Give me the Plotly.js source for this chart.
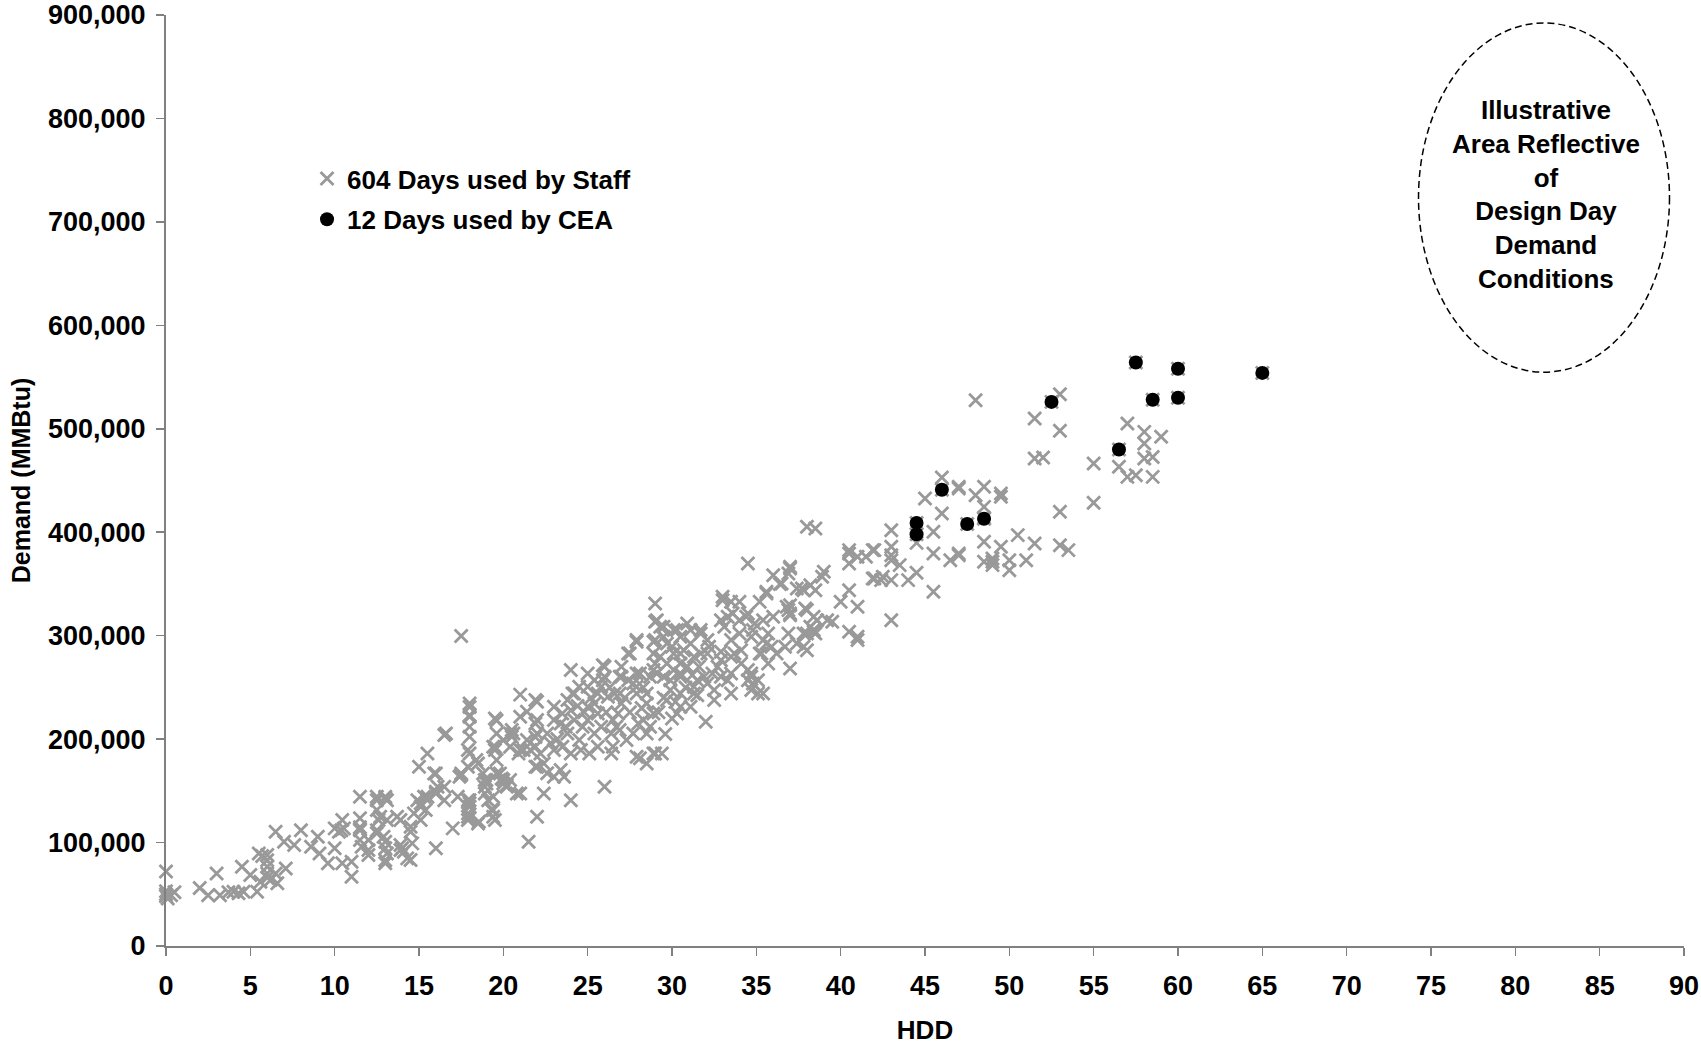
<!DOCTYPE html>
<html><head><meta charset="utf-8">
<script src="https://cdn.plot.ly/plotly-3.0.1.min.js"></script>
<style>html,body{margin:0;padding:0;background:#fff;} #chart{width:1701px;height:1045px;}</style>
</head><body><div id="chart"></div>
<script>
// ---- Staff days (HDD, Demand MMBtu), by HDD region ----
const staffHDD_A = [0,0,0,0.1,0.5,0.3,0,2,2.5,3, 3.2,3.7,4,4.3,4.5,4.6,5,5.4,5.5,5.7, 6,6,6,6.2,6.5,6.6,7,7.1,7.6,8, 8.6,9,9.1,9.6,10,10,10.25,10.45,10.55,10.45, 11,11,11.5,11.5,11.5,11.6,11.5,12,12,12, 12.5,12.5,12.6,12.5,13,13,13,13,13,13.1, 13.7,14,14.1,14.3,14.5,14.5,14.6,14.9,15.1,14.7, 13.9,13.1,12.9,13.9,14.5,10.4,12.7,12.5,11.5,13.9, 13.1,12.5,13,6,6,6.5,5.6];
const staffDemand_A = [72000,48000,50000,46000,52000,49000,53000,56000,49000,70000, 49000,52000,52500,51000,76700,52500,68600,52500,89500,87000, 83000,76700,70000,63800,110500,60600,100800,75000,97600,112000, 96000,105600,89500,79900,113700,94400,110500,121800,113700,79900, 67000,81500,123400,114700,102400,96000,144300,92800,87900,102400, 141000,131400,121800,112000,142700,100800,94400,83000,79900,89500, 125000,94400,91200,84700,110500,115300,99200,141000,121800,128200, 121800,121800,105600,92800,83100,112000,125000,108900,112000,97600, 141000,144300,144300,88000,66000,70000,62000];

const staffHDD_B = [15,15.5,15.4,15.3,15.1,15.1,15.5,16,15.9,16, 16,16,16.1,16.5,16.5,16.5,17,17.3,17.5,17.5, 17.5,17.4,17.9,17.9,18,17.9,18,18,18,18, 18,18,18,18,18,17.9,18,17.9,17.9,18.4, 18.5,18.55,18.5,18.8,18.9,18.9,18.9,19,19,19.1, 19.3,19.4,19.4,19.4,19.5,19.5,19.4,19.5,19.6,19.5, 19.6,19.6,19.6,19.8,19.9,20,20,20,20.2,20.2, 20.4,20.4,20.4,20.5,20.5,20.6,20.8,20.9,21,21, 21,21,21.2,21.4,21.4,21.5,21.6,21.9,21.9,21.9, 21.9,21.9,16.6];
const staffDemand_B = [173300,186000,131400,144300,137900,134600,144300,94400,166800,149100, 166800,147500,154000,203900,154000,141000,113700,144300,165200,299600, 166800,163600,173300,141000,134600,125000,202300,212000,137900,123400, 231000,223000,186000,234500,221600,189400,141000,128200,121800,179700, 176500,120100,118500,166800,160400,154000,147500,160400,157200,141000, 131400,131400,144300,125000,121800,189400,192600,192600,218000,220000, 205500,179700,166800,166800,162000,199000,157200,160400,155600,154000, 205500,192600,160400,208700,202300,205500,147500,186000,243000,221600, 189400,147500,189400,199100,226400,100800,189400,237700,215200,192600, 173300,202000,205500];

const staffHDD_C = [22,22,22.2,22,22.4,22.6,22.6,22.4,22,22, 23,23,23,23,23.4,23.4,23.5,23.5,23.6,23.8, 23.8,24,24.1,24,24,24,24.2,24.5,24.5,24.6, 24.7,25,25,25,25.1,25.4,25.4,25.4,25.6,25.6, 25.6,25.8,25.8,25.9,26,26,26,26.2,26.4,26.4, 26.5,26.5,26.6,26.8,26.9,27,27,27,27.3,27.4, 27.4,27.7,27.9,27.9,27.9,28,28.1,28.1,28.3,28.5, 28.5,28.5,28.5,28.7,28.9,28.9,28.9,28.9,29,29, 29,29.1,29.1,29.3,29.4,29.5,29.5,29.7,29.7,29.9, 29.9,30,30.1,30.1,30.1,30.3,30.5,30.5,30.5,30.5, 30.5,30.7,30.9,31.1,31.1,31.1,31.3,31.3,31.5,31.6, 31.7,31.7,31.9,32,32.2,32.5,32.5,32.7,32.9,33, 33.1,33.3,33.3,33.5,33.5,33.5,33.5,33,34,34, 34,34.1,34.5,34.5,34.5,34.7,34.7,34.8,34.9,35.1, 35.2,35.2,35.4,35.4,35.6,35.6,35.7,35.9,36,36.2, 36.4,36.7,36.9,36.9,37,37,37,37,37.4,37.4, 37.7,37.8,37.9,38,38,38.5,38.2,38.2,38.4,38.4, 38.5,38.5,38,38,38.6,38.9,39,39.2,39.5,40, 40.5,40.5,40.5,40.5,40.5,41,41,41,41,41.5, 41.9,41.9,42,42.4,42.5,36.5,37,37,37.8,35.6, 29,29.3,29,30.3,30.9,31.7,32.1,32.9,33.6,34.4, 34.8,35.4,36,36.8,36.9,37.8,38.4,30,30.5,29.7, 30.9,32.1,32.9,33.7,34.1,34.7,35.1,35.7,35.3,34.5, 34.7,32.9,32.1,31.3,30.5,29.5,28.9,27.9,26.9,25.9, 25,24.2,27.7,27.9,26.9,31.5,33.5,32.4,27.5,27.9, 23.2,24.4,25.2,26.1,26.7,27.5,28.2,28.7,29.2,29.6, 30.2,30.8,31.2,29.5,28.3,27.2,26.3,24.8,23.7,22.8];
const staffDemand_C = [218400,205500,186200,173300,176500,205500,167000,147500,125000,236100, 231300,218400,189400,163600,215200,170100,224800,192600,163600,237700, 205500,266700,244100,228000,186200,141000,218400,250600,199100,189400, 212000,263500,231300,218400,186200,257000,234500,205500,244100,224800, 192600,250600,212000,271500,269900,260300,154000,240900,205500,186200, 218400,192600,244100,224800,208700,269900,260300,234500,199100,282800, 257000,205500,294100,250600,183000,215200,263500,181400,218400,244100, 234500,205500,176500,260300,294100,282800,224800,186200,331100,273100, 186200,315000,263500,279600,186200,308600,298900,292500,237700,257000, 247400,220000,305400,282800,266700,224800,298900,273100,260300,244100, 231300,286000,269900,305400,292500,231300,279600,244100,257000,269900, 302100,282800,260300,216800,289200,247400,237700,269900,284400,334300, 308600,318200,257000,295700,279600,263500,332700,337600,332700,315000, 302100,286000,369800,321500,266700,298900,260300,253800,311800,244100, 332700,282800,315000,244100,342400,292500,302100,289200,358500,282800, 350000,289200,360000,324700,365000,329500,321500,268300,292500,345600, 345600,289200,326300,286000,405300,403700,348800,308600,318200,303700, 344000,302100,324700,302100,315000,356900,361700,315000,313400,332700, 382700,369800,344000,303700,379400,376200,327900,298900,295700,376200, 382700,355300,355300,353700,356900,350400,366600,319800,344000,340800, 313400,308600,295700,305400,311800,305400,295700,315000,321500,318200, 305400,295700,318200,327900,302100,302100,305400,289200,282800,273100, 269900,282800,276300,282800,273100,263500,257000,273100,282800,257000, 247400,260300,253800,250600,263500,260300,266700,263500,260300,257000, 250600,244100,253800,244100,244100,242500,244100,263500,282800,295700, 200000,232000,240000,226000,212000,226000,230000,212000,226000,205000, 236000,250000,262000,240000,250000,240000,250000,226000,212000,196000];

const staffHDD_D = [43,43,43,43,43,43,42,43.5,44,44.5, 44.5,45,45.5,45.5,45.5,46,46,46.5,47,47, 47,47,48,48,48.5,48.5,48.5,48.5,48.5,49, 49,49,49.5,49.5,49.5,50,50,50.5,51,51.5, 51.5,51.5,52,53,53,53,53,53.5,55,55, 56.5,57,57,57.5,58,58,58,58.5,58.5,59, 44.5,44.5,46,47.5,48.5,52.5,56.5,57.5,58.5,60, 60,65];
const staffDemand_D = [402000,385900,377800,373000,353700,315000,382700,368200,353700,360800, 389700,432600,400400,379400,342400,452900,418100,373000,443900,442300, 379400,377800,527600,435800,443900,424500,390700,371400,413000,374600, 371400,368200,437400,434200,385900,363300,373000,397200,373000,509900, 471200,389100,472200,533400,498000,419700,387500,382700,466400,428400, 463200,505000,453500,455100,497000,485700,471200,472800,453500,492200, 409000,398000,441000,408000,414000,526000,480000,564000,528000,558000, 530000,554000];

// ---- 12 CEA days ----
const ceaHDD = [44.5,44.5,46,47.5,48.5,52.5,56.5,57.5,58.5,60,60,65];
const ceaDemand = [409000,398000,441000,408000,413000,526000,480000,564000,528000,558000,530000,554000];

// ---- axes ----
const xTicks = [0,5,10,15,20,25,30,35,40,45,50,55,60,65,70,75,80,85,90];
const yTicks = [0,100000,200000,300000,400000,500000,600000,700000,800000,900000];
const yTickLabels = ['0','100,000','200,000','300,000','400,000','500,000','600,000','700,000','800,000','900,000'];

const staffHDD = [].concat(staffHDD_A, staffHDD_B, staffHDD_C, staffHDD_D);
const staffDemand = [].concat(staffDemand_A, staffDemand_B, staffDemand_C, staffDemand_D);

const FONT = 'Liberation Sans, Arial, Helvetica, sans-serif';
const AX = '#808080';

const traces = [
  {type:'scatter', mode:'markers', name:'604 Days used by Staff', legendgroup:'staff',
   x: staffHDD, y: staffDemand, cliponaxis:false,
   marker:{symbol:'x-thin', size:13, color:'#999999', line:{color:'#999999', width:2.8}}},
  {type:'scatter', mode:'markers', name:'12 Days used by CEA', legendgroup:'cea',
   x: ceaHDD, y: ceaDemand, cliponaxis:false,
   marker:{symbol:'circle', size:14, color:'#000000', line:{width:0}}}
];

const layout = {
  width:1701, height:1045,
  margin:{l:166, r:17, t:15, b:99, pad:0},
  paper_bgcolor:'#ffffff', plot_bgcolor:'#ffffff',
  font:{family:FONT, size:24, color:'#000', weight:'bold'},
  showlegend:true,
  xaxis:{range:[0,90], tickvals:xTicks, ticks:'outside', ticklen:8, tickwidth:1.5, tickcolor:AX,
         showline:true, linecolor:AX, linewidth:2, showgrid:false, zeroline:false, automargin:false,
         tickfont:{family:FONT, size:27, color:'#000', weight:'bold'}, ticklabelstandoff:7,
         title:{text:'HDD', font:{family:FONT, size:26, color:'#000', weight:'bold'}, standoff:25}},
  yaxis:{range:[0,900000], tickvals:yTicks, ticktext:yTickLabels, ticks:'outside', ticklen:8, tickwidth:1.5, tickcolor:AX,
         showline:true, linecolor:AX, linewidth:2, showgrid:false, zeroline:false, automargin:false,
         tickfont:{family:FONT, size:27, color:'#000', weight:'bold'}, ticklabelstandoff:5,
         title:{text:'Demand (MMBtu)', font:{family:FONT, size:25, color:'#000', weight:'bold'}, standoff:10}},
  legend:{x:0.0929, y:0.8496, xanchor:'left', yanchor:'top', bgcolor:'rgba(0,0,0,0)', borderwidth:0,
          font:{family:FONT, size:26, color:'#000', weight:'bold'}, traceorder:'grouped', tracegroupgap:4},
  shapes:[{type:'circle', xref:'x', yref:'y', x0:74.26, x1:89.14, y0:554700, y1:892300,
           line:{color:'#000', width:1.5, dash:'7px,4px'}}],
  annotations:[{xref:'x', yref:'y', x:81.8, y:726500, showarrow:false, align:'center',
                text:'Illustrative<br>Area Reflective<br>of<br>Design Day<br>Demand<br>Conditions',
                font:{family:FONT, size:26, color:'#000', weight:'bold'}}]
};

Plotly.newPlot('chart', traces, layout, {displayModeBar:false, staticPlot:true});
</script>
</body></html>
